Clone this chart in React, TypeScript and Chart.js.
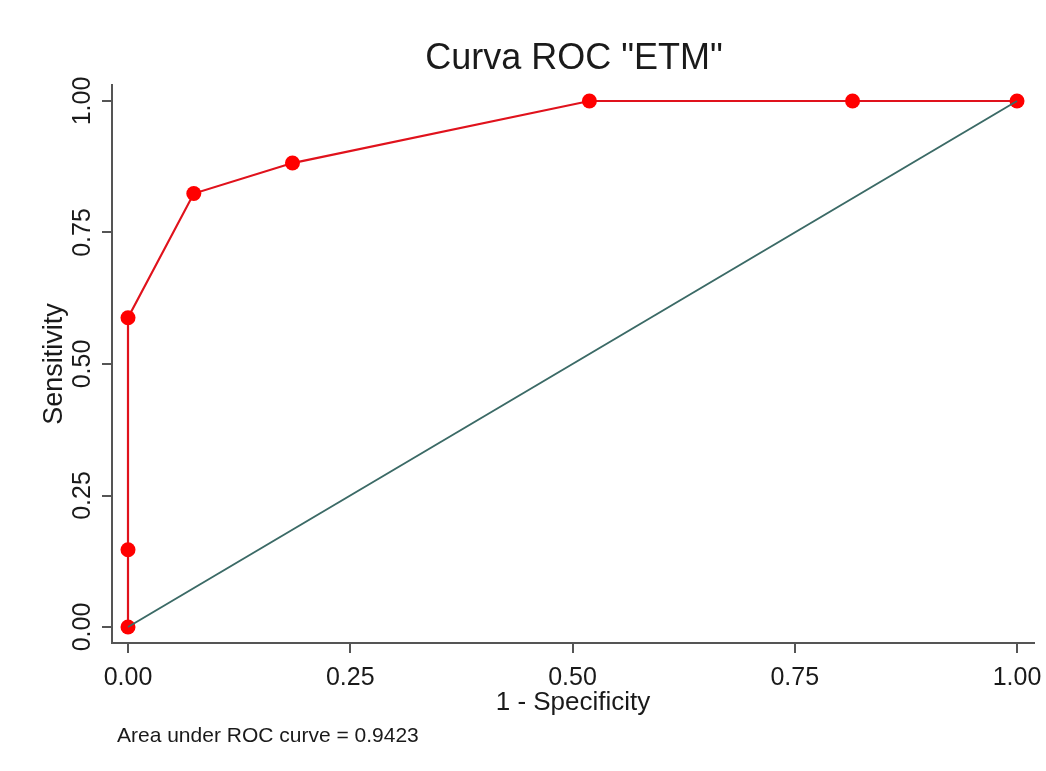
import React, { useEffect, useRef } from "react";
import { Chart, registerables } from "chart.js";

Chart.register(...registerables);

const fpr = [0, 0, 0, 0.074, 0.185, 0.519, 0.815, 1];
const tpr = [0, 0.147, 0.588, 0.824, 0.882, 1, 1, 1];
const refX = [0, 1];
const refY = [0, 1];
const xTicks = [0, 0.25, 0.5, 0.75, 1];
const yTicks = [0, 0.25, 0.5, 0.75, 1];
const titleText = 'Curva ROC "ETM"';
const xTitle = "1 - Specificity";
const yTitle = "Sensitivity";
const note = "Area under ROC curve = 0.9423";

const FONT = '"Liberation Sans", Arial, sans-serif';
const TEXT = "#1a1a1a";
const AXIS = "#555555";

export default function App() {
  const ref = useRef<HTMLCanvasElement | null>(null);
  useEffect(() => {
    if (!ref.current) return;
    const textPlugin = {
      id: "textPlugin",
      afterDraw(chart: any) {
        const ctx = chart.ctx;
        const ca = chart.chartArea;
        const ys = chart.scales.y;
        ctx.save();
        ctx.fillStyle = TEXT;
        // title
        ctx.font = `36px ${FONT}`;
        ctx.textAlign = "center";
        ctx.textBaseline = "alphabetic";
        ctx.fillText(titleText, 574, 69);
        // x title
        ctx.font = `26px ${FONT}`;
        ctx.fillText(xTitle, (ca.left + ca.right) / 2, 710);
        // y tick labels
        ctx.font = `25px ${FONT}`;
        for (const v of yTicks) {
          const py = ys.getPixelForValue(v);
          ctx.save();
          ctx.translate(ca.left - 22, py);
          ctx.rotate(-Math.PI / 2);
          ctx.textAlign = "center";
          ctx.fillText(v.toFixed(2), 0, 0);
          ctx.restore();
        }
        // y title
        ctx.font = `27px ${FONT}`;
        ctx.save();
        ctx.translate(ca.left - 50, (ca.top + ca.bottom) / 2);
        ctx.rotate(-Math.PI / 2);
        ctx.textAlign = "center";
        ctx.fillText(yTitle, 0, 0);
        ctx.restore();
        // note
        ctx.font = `21px ${FONT}`;
        ctx.textAlign = "left";
        ctx.fillText(note, 117, 742);
        ctx.restore();
      },
    };
    const chart = new Chart(ref.current, {
      type: "scatter",
      data: {
        datasets: [
          {
            label: "Reference",
            data: refX.map((x, i) => ({ x, y: refY[i] })),
            showLine: true,
            borderColor: "#3b6a66",
            borderWidth: 2,
            pointRadius: 0,
            pointHoverRadius: 0,
          },
          {
            label: "ROC",
            data: fpr.map((x, i) => ({ x, y: tpr[i] })),
            showLine: true,
            borderColor: "#e0121c",
            borderWidth: 2.2,
            pointRadius: 7.5,
            pointBackgroundColor: "#ff0000",
            pointBorderColor: "#ff0000",
            pointBorderWidth: 0,
          },
        ],
      },
      options: {
        responsive: false,
        animation: false,
        layout: { padding: { top: 85, right: 12, bottom: 0, left: 0 } },
        plugins: {
          legend: { display: false },
          title: { display: false },
          tooltip: { enabled: false },
        },
        scales: {
          x: {
            type: "linear",
            min: -0.018,
            max: 1.0191,
            afterBuildTicks: (s: any) => {
              s.ticks = xTicks.map((v) => ({ value: v }));
            },
            afterFit: (s: any) => {
              s.height = 128;
              s.paddingLeft = 0;
              s.paddingRight = 0;
            },
            grid: { drawOnChartArea: false, drawTicks: true, tickLength: 10, color: AXIS, lineWidth: 2 },
            border: { display: true, color: AXIS, width: 2 },
            ticks: {
              color: TEXT,
              font: { size: 25, family: FONT },
              padding: 10,
              maxRotation: 0,
              minRotation: 0,
              callback: (v: any) => Number(v).toFixed(2),
            },
          },
          y: {
            type: "linear",
            min: -0.0304,
            max: 1.0304,
            afterBuildTicks: (s: any) => {
              s.ticks = yTicks.map((v) => ({ value: v }));
            },
            afterFit: (s: any) => {
              s.width = 112;
              s.paddingTop = 0;
              s.paddingBottom = 0;
            },
            grid: { drawOnChartArea: false, drawTicks: true, tickLength: 10, color: AXIS, lineWidth: 2 },
            border: { display: true, color: AXIS, width: 2 },
            ticks: { display: false },
          },
        },
      },
      plugins: [textPlugin],
    } as any);
    return () => chart.destroy();
  }, []);
  return (
    <div style={{ position: "absolute", left: 0, top: 0, width: 1046, height: 771, background: "#ffffff" }}>
      <canvas ref={ref} width={1046} height={771} style={{ display: "block", width: 1046, height: 771 }} />
    </div>
  );
}
